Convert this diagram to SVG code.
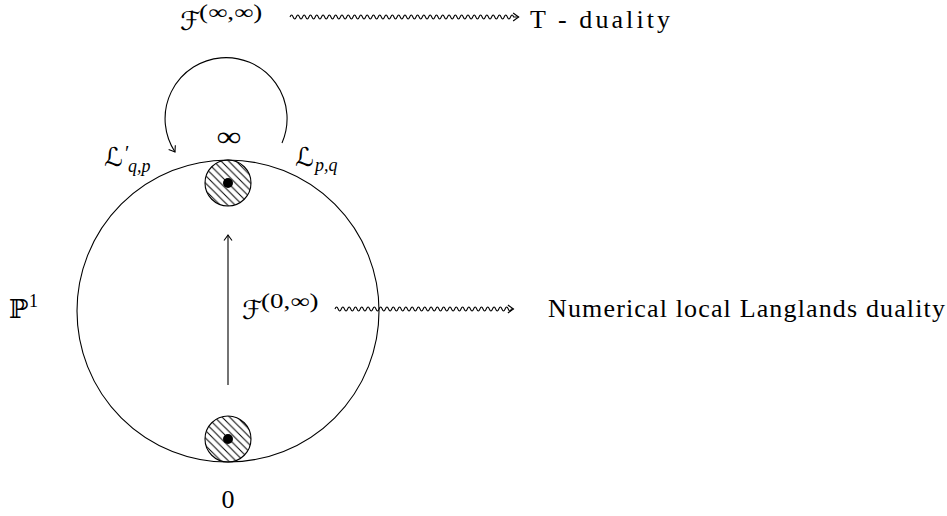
<svg xmlns="http://www.w3.org/2000/svg" width="947" height="516" viewBox="0 0 947 516">
<style>
.ln{fill:none;stroke:#000;stroke-width:1.1}
.rm{font-family:"Liberation Serif",serif}
.it{font-family:"Liberation Serif",serif;font-style:italic}
.cal{font-family:"DejaVu Serif","DejaVu Sans",serif}
</style>
<defs>
<marker id="ah" viewBox="-8 -6 10 12" markerWidth="10" markerHeight="12" refX="0" refY="0" orient="auto" markerUnits="userSpaceOnUse">
<path d="M-5.5,-4 Q-1.5,-1 0,0 Q-1.5,1 -5.5,4" fill="none" stroke="#000" stroke-width="1.1"/>
</marker>
<pattern id="nwl" patternUnits="userSpaceOnUse" width="7.5" height="7.5">
<path d="M-1,-1 L8.5,8.5 M-1,6.5 L1,8.5 M6.5,-1 L8.5,1" stroke="#000" stroke-width="1"/>
</pattern>
</defs>

<g id="sphere">
<circle class="ln" cx="228" cy="311" r="151"/>
</g>

<g id="point-infinity">
<circle cx="228" cy="183" r="23" fill="url(#nwl)" stroke="#000" stroke-width="1.1"/>
<circle cx="228" cy="183" r="5" fill="#000"/>
</g>

<g id="point-zero">
<circle cx="228" cy="439" r="23" fill="url(#nwl)" stroke="#000" stroke-width="1.1"/>
<circle cx="228" cy="439" r="5" fill="#000"/>
</g>

<g id="connectors">
<path class="ln" d="M282,143 A61,61 0 1 0 175,152" marker-end="url(#ah)"/>
<path class="ln" d="M228,385 L228,235" marker-end="url(#ah)"/>
<path class="ln" d="M290,17 q1.575,-4 3.15,0 t3.15,0 t3.15,0 t3.15,0 t3.15,0 t3.15,0 t3.15,0 t3.15,0 t3.15,0 t3.15,0 t3.15,0 t3.15,0 t3.15,0 t3.15,0 t3.15,0 t3.15,0 t3.15,0 t3.15,0 t3.15,0 t3.15,0 t3.15,0 t3.15,0 t3.15,0 t3.15,0 t3.15,0 t3.15,0 t3.15,0 t3.15,0 t3.15,0 t3.15,0 t3.15,0 t3.15,0 t3.15,0 t3.15,0 t3.15,0 t3.15,0 t3.15,0 t3.15,0 t3.15,0 t3.15,0 t3.15,0 t3.15,0 t3.15,0 t3.15,0 t3.15,0 t3.15,0 t3.15,0 t3.15,0 t3.15,0 t3.15,0 t3.15,0 t3.15,0 t3.15,0 t3.15,0 t3.15,0 t3.15,0 t3.15,0 t3.15,0 t3.15,0 t3.15,0 t3.15,0 t3.15,0 t3.15,0 t3.15,0 t3.15,0 t3.15,0 t3.15,0 t3.15,0 t3.15,0 t3.15,0 t3.15,0 l5,0" marker-end="url(#ah)"/>
<path class="ln" d="M335,309 q1.575,-4 3.15,0 t3.15,0 t3.15,0 t3.15,0 t3.15,0 t3.15,0 t3.15,0 t3.15,0 t3.15,0 t3.15,0 t3.15,0 t3.15,0 t3.15,0 t3.15,0 t3.15,0 t3.15,0 t3.15,0 t3.15,0 t3.15,0 t3.15,0 t3.15,0 t3.15,0 t3.15,0 t3.15,0 t3.15,0 t3.15,0 t3.15,0 t3.15,0 t3.15,0 t3.15,0 t3.15,0 t3.15,0 t3.15,0 t3.15,0 t3.15,0 t3.15,0 t3.15,0 t3.15,0 t3.15,0 t3.15,0 t3.15,0 t3.15,0 t3.15,0 t3.15,0 t3.15,0 t3.15,0 t3.15,0 t3.15,0 t3.15,0 t3.15,0 t3.15,0 t3.15,0 t3.15,0 t3.15,0 t3.15,0 t3.15,0 l2,0" marker-end="url(#ah)"/>
</g>

<g id="label-infinity"><text class="rm" font-size="28" text-anchor="middle" transform="translate(229,146) scale(1.25,1)">∞</text></g>
<g id="label-zero"><text class="rm" font-size="26" x="228" y="508" text-anchor="middle">0</text></g>
<g id="label-P1"><text class="cal" font-size="26" x="9" y="318">ℙ</text><text class="rm" font-size="18" x="29" y="307">1</text></g>
<g id="label-Lqp"><text class="cal" font-size="26" x="104" y="166">ℒ</text><text class="rm" font-size="20" x="125" y="160">′</text><text class="it" font-size="18" x="128" y="172">q,p</text></g>
<g id="label-Lpq"><text class="cal" font-size="26" x="295" y="166">ℒ</text><text class="it" font-size="18" x="315" y="171">p,q</text></g>

<g id="F-inf-inf"><text class="cal" font-size="26" x="180" y="30">ℱ</text><text class="rm" font-size="20" transform="translate(199,19) scale(1.35,1)">(∞,∞)</text></g>
<g id="T-duality"><text class="rm" font-size="26" x="530" y="28" textLength="140" lengthAdjust="spacing">T - duality</text></g>

<g id="F-0-inf"><text class="cal" font-size="26" x="242" y="319">ℱ</text><text class="rm" font-size="20" transform="translate(261,308) scale(1.35,1)">(0,∞)</text></g>
<g id="NLL-duality"><text class="rm" font-size="26" x="548" y="317" textLength="397" lengthAdjust="spacing">Numerical local Langlands duality</text></g>
</svg>
